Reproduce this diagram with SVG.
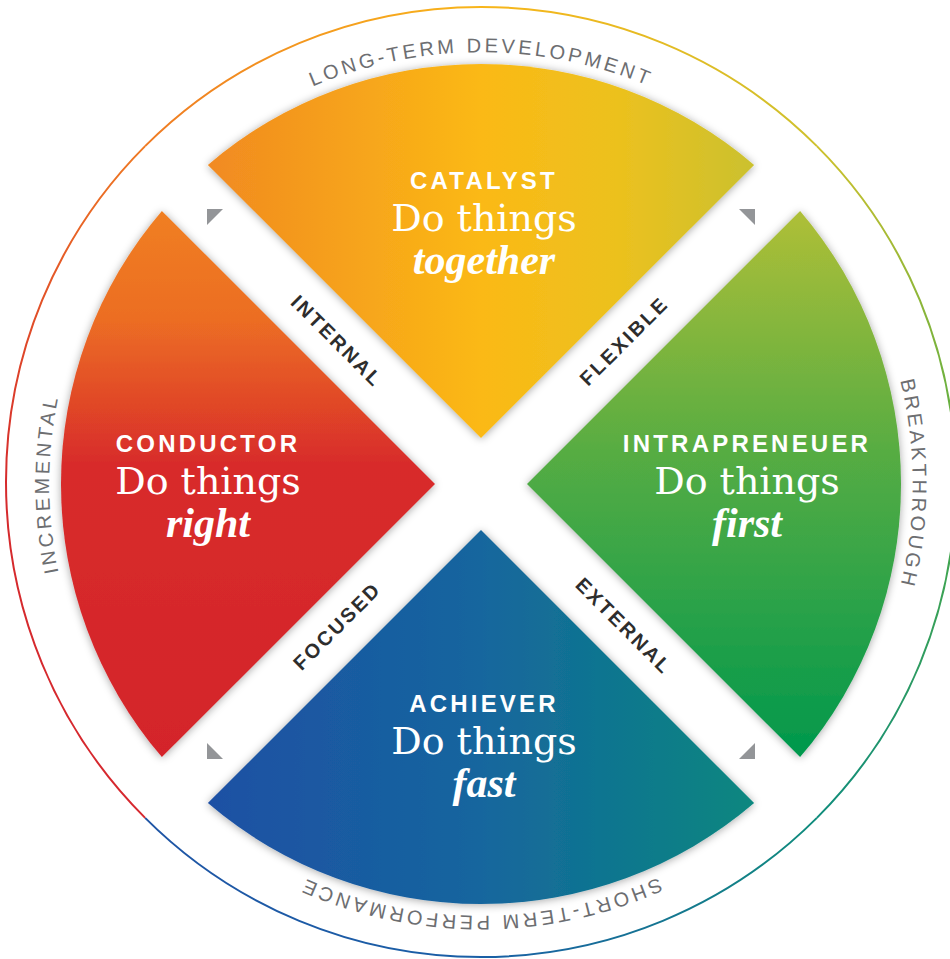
<svg xmlns="http://www.w3.org/2000/svg" width="950" height="959" viewBox="0 0 950 959">
  <defs>
    <style>
      .title { font-family: "Liberation Sans", Arial, sans-serif; font-weight: 700; font-size: 24px; letter-spacing: 3.2px; fill: #ffffff; text-anchor: middle; }
      .lead { font-family: "DejaVu Serif", "Liberation Serif", serif; font-size: 38px; fill: #ffffff; text-anchor: middle; }
      .verb { font-family: "Liberation Serif", "Times New Roman", serif; font-weight: 700; font-style: italic; font-size: 42px; fill: #ffffff; text-anchor: middle; }
      .axis { font-family: "Liberation Sans", Arial, sans-serif; font-weight: 700; font-size: 20px; letter-spacing: 2.4px; fill: #2d2d2d; text-anchor: middle; }
      .ringlabel { font-family: "Liberation Sans", Arial, sans-serif; font-size: 20px; letter-spacing: 3.3px; fill: #6d6e71; text-anchor: middle; }
      .arrow { fill: #939598; }
      .ring { fill: none; stroke-width: 2; }
    </style>

    <filter id="shadow" x="-15%" y="-15%" width="130%" height="130%">
      <feDropShadow dx="0" dy="1" stdDeviation="4" flood-color="#000000" flood-opacity="0.35"/>
    </filter>

    <!-- quadrant fills -->
    <linearGradient id="gCatalyst" gradientUnits="userSpaceOnUse" x1="208" y1="0" x2="754" y2="0">
      <stop offset="0" stop-color="#f18a21"/>
      <stop offset="0.5" stop-color="#fbb916"/>
      <stop offset="0.75" stop-color="#ecc11e"/>
      <stop offset="1" stop-color="#cbc12f"/>
    </linearGradient>
    <linearGradient id="gConductor" gradientUnits="userSpaceOnUse" x1="0" y1="211" x2="0" y2="757">
      <stop offset="0" stop-color="#f07f22"/>
      <stop offset="0.2" stop-color="#ec6d24"/>
      <stop offset="0.36" stop-color="#e04628"/>
      <stop offset="0.46" stop-color="#d82c2a"/>
      <stop offset="1" stop-color="#d42429"/>
    </linearGradient>
    <linearGradient id="gIntrapreneur" gradientUnits="userSpaceOnUse" x1="0" y1="211" x2="0" y2="757">
      <stop offset="0" stop-color="#afbf37"/>
      <stop offset="0.45" stop-color="#55ac43"/>
      <stop offset="1" stop-color="#00984d"/>
    </linearGradient>
    <linearGradient id="gAchiever" gradientUnits="userSpaceOnUse" x1="208" y1="0" x2="754" y2="0">
      <stop offset="0" stop-color="#1d50a4"/>
      <stop offset="0.5" stop-color="#16669e"/>
      <stop offset="1" stop-color="#07877f"/>
    </linearGradient>

    <!-- outer ring, one gradient per 45 degree arc -->
    <linearGradient id="r0" gradientUnits="userSpaceOnUse" x1="956" y1="482" x2="816.88" y2="817.88">
      <stop offset="0" stop-color="#4dab45"/><stop offset="1" stop-color="#0f8c7c"/>
    </linearGradient>
    <linearGradient id="r1" gradientUnits="userSpaceOnUse" x1="816.88" y1="817.88" x2="481" y2="957">
      <stop offset="0" stop-color="#0f8c7c"/><stop offset="1" stop-color="#1a5fa6"/>
    </linearGradient>
    <linearGradient id="r2" gradientUnits="userSpaceOnUse" x1="481" y1="957" x2="145.12" y2="817.88">
      <stop offset="0" stop-color="#1a5fa6"/><stop offset="1" stop-color="#1f55a5"/>
    </linearGradient>
    <linearGradient id="r3" gradientUnits="userSpaceOnUse" x1="145.12" y1="817.88" x2="6" y2="482">
      <stop offset="0" stop-color="#d6282f"/><stop offset="1" stop-color="#d52a2c"/>
    </linearGradient>
    <linearGradient id="r4" gradientUnits="userSpaceOnUse" x1="6" y1="482" x2="145.12" y2="146.12">
      <stop offset="0" stop-color="#d52a2c"/><stop offset="1" stop-color="#ef7a23"/>
    </linearGradient>
    <linearGradient id="r5" gradientUnits="userSpaceOnUse" x1="145.12" y1="146.12" x2="481" y2="7">
      <stop offset="0" stop-color="#ef7a23"/><stop offset="1" stop-color="#f8b51a"/>
    </linearGradient>
    <linearGradient id="r6" gradientUnits="userSpaceOnUse" x1="481" y1="7" x2="816.88" y2="146.12">
      <stop offset="0" stop-color="#f8b51a"/><stop offset="1" stop-color="#cec12d"/>
    </linearGradient>
    <linearGradient id="r7" gradientUnits="userSpaceOnUse" x1="816.88" y1="146.12" x2="956" y2="482">
      <stop offset="0" stop-color="#cec12d"/><stop offset="1" stop-color="#4dab45"/>
    </linearGradient>

    <!-- clockwise baseline for the ring captions, starting at the lower left -->
    <path id="captionPath" d="M175.53,789.47 A432,432 0 0,1 786.47,178.53 A432,432 0 0,1 175.53,789.47"/>
  </defs>

  <rect width="950" height="959" fill="#ffffff"/>

  <!-- outer ring -->
  <g id="ring">
    <path class="ring" stroke="url(#r0)" d="M956,482 A475,475 0 0,1 816.88,817.88"/>
    <path class="ring" stroke="url(#r1)" d="M816.88,817.88 A475,475 0 0,1 481,957"/>
    <path class="ring" stroke="url(#r2)" d="M481,957 A475,475 0 0,1 145.12,817.88"/>
    <path class="ring" stroke="url(#r3)" d="M145.12,817.88 A475,475 0 0,1 6,482"/>
    <path class="ring" stroke="url(#r4)" d="M6,482 A475,475 0 0,1 145.12,146.12"/>
    <path class="ring" stroke="url(#r5)" d="M145.12,146.12 A475,475 0 0,1 481,7"/>
    <path class="ring" stroke="url(#r6)" d="M481,7 A475,475 0 0,1 816.88,146.12"/>
    <path class="ring" stroke="url(#r7)" d="M816.88,146.12 A475,475 0 0,1 956,482"/>

    <text class="ringlabel"><textPath href="#captionPath" startOffset="37.5%">LONG-TERM DEVELOPMENT</textPath></text>
    <text class="ringlabel"><textPath href="#captionPath" startOffset="62.5%">BREAKTHROUGH</textPath></text>
    <text class="ringlabel"><textPath href="#captionPath" startOffset="87.5%">SHORT-TERM PERFORMANCE</textPath></text>
    <text class="ringlabel"><textPath href="#captionPath" startOffset="12.5%">INCREMENTAL</textPath></text>
  </g>

  <!-- quadrants -->
  <g id="catalyst">
    <path d="M481,438 L207.9,164.9 A420,420 0 0,1 754.1,164.9 Z" fill="url(#gCatalyst)" filter="url(#shadow)"/>
    <text class="title" x="484" y="189">CATALYST</text>
    <text class="lead" x="484" y="231">Do things</text>
    <text class="verb" x="484" y="274">together</text>
  </g>

  <g id="conductor">
    <path d="M435,484 L161.9,757.1 A420,420 0 0,1 161.9,210.9 Z" fill="url(#gConductor)" filter="url(#shadow)"/>
    <text class="title" x="208" y="452">CONDUCTOR</text>
    <text class="lead" x="208" y="494">Do things</text>
    <text class="verb" x="208" y="537">right</text>
  </g>

  <g id="intrapreneur">
    <path d="M527,484 L800.1,210.9 A420,420 0 0,1 800.1,757.1 Z" fill="url(#gIntrapreneur)" filter="url(#shadow)"/>
    <text class="title" x="747" y="452">INTRAPRENEUER</text>
    <text class="lead" x="747" y="494">Do things</text>
    <text class="verb" x="747" y="537">first</text>
  </g>

  <g id="achiever">
    <path d="M481,530 L754.1,803.1 A420,420 0 0,1 207.9,803.1 Z" fill="url(#gAchiever)" filter="url(#shadow)"/>
    <text class="title" x="484" y="712">ACHIEVER</text>
    <text class="lead" x="484" y="754">Do things</text>
    <text class="verb" x="484" y="797">fast</text>
  </g>

  <!-- axis labels in the white bands -->
  <g id="axes">
    <text class="axis" transform="translate(337,341) rotate(45)" y="7">INTERNAL</text>
    <text class="axis" transform="translate(624,341) rotate(-45)" y="7">FLEXIBLE</text>
    <text class="axis" transform="translate(337,626) rotate(-45)" y="7">FOCUSED</text>
    <text class="axis" transform="translate(624,626) rotate(45)" y="7">EXTERNAL</text>
  </g>

  <!-- corner pointers -->
  <g id="connectors">
    <polygon class="arrow" points="207,209 223,209 207,225"/>
    <polygon class="arrow" points="755,209 739,209 755,225"/>
    <polygon class="arrow" points="207,759 223,759 207,743"/>
    <polygon class="arrow" points="755,759 739,759 755,743"/>
  </g>
</svg>
